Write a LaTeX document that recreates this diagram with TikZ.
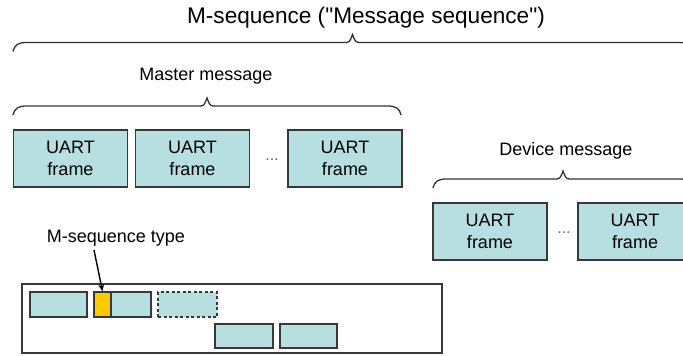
\documentclass[tikz,border=0pt]{standalone}
\usepackage{fontspec}
\setmainfont{Liberation Sans}
% no TeX ligature mapping here, so straight quotes stay straight
\newfontfamily\plainsans{Liberation Sans}
\usetikzlibrary{arrows.meta}
\definecolor{framefill}{HTML}{B7DEE0}
\definecolor{frameline}{HTML}{383838}
\definecolor{typefill}{HTML}{FFC800}
\tikzset{
  uart/.style={draw=frameline, line width=1.7pt, fill=framefill, inner sep=0pt,
    align=center, font=\fontsize{18}{22}\selectfont,
    minimum width=114pt, minimum height=57pt},
  mini/.style={draw=frameline, line width=1.4pt, fill=framefill, inner sep=0pt,
    minimum height=25pt},
  bracket/.style={draw=black!80, line width=1.3pt},
  caption/.style={font=\fontsize{18}{22}\selectfont, inner sep=0pt},
  dots/.style={font=\fontsize{16}{18}\selectfont, text=black!60, inner sep=0pt}
}
% curly brace: left end x1, tip x, right end x2, line height y
\newcommand{\curlybrace}[4]{%
  \draw[bracket] (#1,{#4+9}) .. controls ({#1+2},{#4+2}) and ({#1+5},#4) .. ({#1+14},#4)
    -- ({#2-9},#4) .. controls ({#2-3},#4) .. (#2,{#4-8})
    .. controls ({#2+3},#4) .. ({#2+9},#4)
    -- ({#3-14},#4) .. controls ({#3-5},#4) and ({#3-2},{#4+2}) .. (#3,{#4+9});}
\begin{document}
\begin{tikzpicture}[x=1pt,y=-1pt]
\useasboundingbox (0,0) rectangle (683,356);
\clip (0,0) rectangle (683,356);

% whole M-sequence
\node[font=\plainsans\fontsize{22.6}{26}\selectfont, inner sep=0pt] (title) at (366,18) {M-sequence ("Message sequence")};
\curlybrace{13}{352.5}{692}{42.5}

% master message
\node[caption] (master) at (206,76) {Master message};
\curlybrace{13}{207}{401}{106}
\node[uart] (m1) at (70.5,158.5) {UART\\frame};
\node[uart] (m2) at (192.5,158.5) {UART\\frame};
\node[dots] (mdots) at (272,160) {...};
\node[uart] (m3) at (345,158.5) {UART\\frame};

% device message
\node[caption] (device) at (566,151) {Device message};
\curlybrace{433}{563}{693}{179}
\node[uart] (d1) at (490,231.5) {UART\\frame};
\node[dots] (ddots) at (564,233) {...};
\node[uart] (d2) at (635,231.5) {UART\\frame};

% M-sequence overview
\node[draw=frameline, line width=1.4pt, minimum width=420pt, minimum height=69pt, inner sep=0pt] (panel) at (232,318.5) {};
\node[mini, minimum width=57pt] (p1) at (58.5,304.5) {};
\node[mini, minimum width=57pt] (p2) at (122.5,304.5) {};
\node[draw=frameline, line width=1.4pt, fill=typefill, inner sep=0pt, minimum width=17pt, minimum height=25pt] (mtype) at (102.5,304.5) {};
\node[mini, minimum width=59pt, dashed, dash pattern=on 3pt off 2.5pt] (p3) at (187.5,304.5) {};
\node[mini, minimum width=58pt, minimum height=24pt] (p4) at (244,336) {};
\node[mini, minimum width=57pt, minimum height=24pt] (p5) at (308.5,336) {};

\node[caption] (typelabel) at (116,238) {M-sequence type};
\coordinate (typefoot) at (94,250);
\draw[line width=1.4pt, -{Stealth[length=7pt,width=6pt]}] (typefoot) -- (mtype.north);
\end{tikzpicture}
\end{document}
